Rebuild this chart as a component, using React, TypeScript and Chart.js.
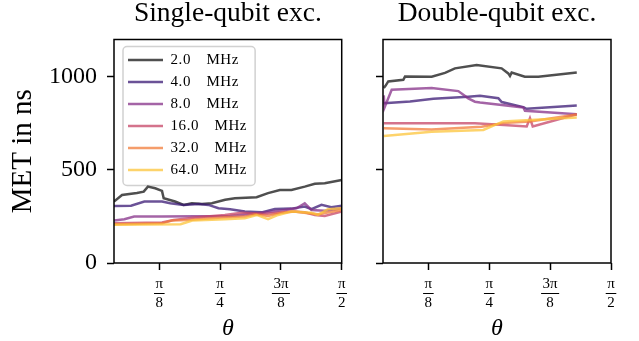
import React, { useEffect, useRef } from 'react';
import { Chart, registerables } from 'chart.js';

Chart.register(...registerables);

const PI = Math.PI;
const THETA_MIN = 0.1;
const THETA_MAX = PI / 2;
const X_TICK_VALUES = [PI / 8, PI / 4, (3 * PI) / 8, PI / 2];
const X_TICK_NUMERATORS = ['π', 'π', '3π', 'π'];
const X_TICK_DENOMINATORS = ['8', '4', '8', '2'];
const Y_TICK_VALUES = [0, 500, 1000];
const Y_MAX = 1200;

const PANEL_TITLES = ['Single-qubit exc.', 'Double-qubit exc.'];
const Y_TITLE = 'MET in ns';
const X_TITLE = 'θ';
const FREQUENCIES = ['2.0 MHz', '4.0 MHz', '8.0 MHz', '16.0 MHz', '32.0 MHz', '64.0 MHz'];
const COLORS = [
  'rgba(30,30,30,0.78)',
  'rgba(57,24,116,0.75)',
  'rgba(133,48,136,0.75)',
  'rgba(197,68,101,0.75)',
  'rgba(242,124,57,0.75)',
  'rgba(252,196,57,0.75)',
];

// [theta (rad), MET (ns)] — single-qubit excitation
const SINGLE_2MHZ = [[0.1, 330], [0.152, 365], [0.248, 376], [0.292, 383], [0.319, 410], [0.366, 401], [0.41, 387], [0.421, 348], [0.494, 330], [0.55, 312], [0.603, 321], [0.668, 317], [0.732, 321], [0.818, 340], [0.881, 348], [1.021, 353], [1.095, 375], [1.171, 392], [1.246, 392], [1.332, 410], [1.397, 425], [1.461, 428], [1.571, 446]];
const SINGLE_4MHZ = [[0.1, 306], [0.21, 308], [0.296, 330], [0.41, 330], [0.463, 321], [0.55, 312], [0.646, 317], [0.71, 312], [0.775, 294], [0.85, 289], [0.945, 276], [1.053, 272], [1.139, 290], [1.246, 292], [1.332, 303], [1.375, 289], [1.44, 312], [1.504, 299], [1.571, 308]];
const SINGLE_8MHZ = [[0.1, 228], [0.167, 235], [0.23, 249], [0.41, 249], [0.85, 253], [1.031, 267], [1.203, 285], [1.279, 294], [1.332, 321], [1.375, 285], [1.461, 281], [1.571, 294]];
const SINGLE_16MHZ = [[0.1, 213], [0.41, 217], [0.485, 231], [0.624, 244], [0.816, 258], [0.924, 270], [1.074, 263], [1.246, 276], [1.332, 272], [1.397, 258], [1.461, 253], [1.571, 276]];
const SINGLE_32MHZ = [[0.1, 208], [0.41, 213], [0.474, 228], [0.582, 231], [0.816, 246], [0.945, 249], [1.01, 262], [1.095, 253], [1.182, 270], [1.268, 276], [1.353, 267], [1.418, 262], [1.571, 285]];
const SINGLE_64MHZ = [[0.1, 206], [0.53, 208], [0.606, 228], [0.816, 235], [0.945, 240], [1.021, 258], [1.095, 235], [1.16, 258], [1.246, 276], [1.375, 270], [1.418, 258], [1.482, 289], [1.571, 294]];

// [theta (rad), MET (ns)] — double-qubit excitation
const DOUBLE_2MHZ = [[0.105, 940], [0.115, 950], [0.134, 975], [0.231, 984], [0.242, 1001], [0.414, 1000], [0.5, 1021], [0.564, 1045], [0.704, 1063], [0.865, 1045], [0.908, 1018], [0.919, 1004], [0.93, 1023], [1.015, 1000], [1.102, 1000], [1.35, 1023]];
const DOUBLE_4MHZ = [[0.105, 858], [0.274, 867], [0.425, 882], [0.65, 893], [0.726, 898], [0.844, 885], [0.866, 864], [1.005, 837], [1.027, 828], [1.35, 846]];
const DOUBLE_8MHZ = [[0.105, 900], [0.11, 835], [0.156, 930], [0.414, 940], [0.586, 923], [0.65, 884], [0.693, 866], [0.726, 862], [1.005, 835], [1.016, 817], [1.35, 799]];
const DOUBLE_16MHZ = [[0.105, 750], [0.693, 750], [0.855, 742], [1.027, 733], [1.048, 778], [1.066, 733], [1.35, 799]];
const DOUBLE_32MHZ = [[0.105, 723], [0.414, 717], [0.736, 732], [0.876, 751], [1.048, 760], [1.35, 797]];
const DOUBLE_64MHZ = [[0.105, 682], [0.414, 705], [0.747, 714], [0.876, 760], [1.35, 781]];

const SINGLE_SERIES = [SINGLE_2MHZ, SINGLE_4MHZ, SINGLE_8MHZ, SINGLE_16MHZ, SINGLE_32MHZ, SINGLE_64MHZ];
const DOUBLE_SERIES = [DOUBLE_2MHZ, DOUBLE_4MHZ, DOUBLE_8MHZ, DOUBLE_16MHZ, DOUBLE_32MHZ, DOUBLE_64MHZ];

const FAMILY = "'Liberation Serif', 'DejaVu Serif', serif";
const TICK_LEN = 7;
const XT_PAD = 4.5;
const XT_LINE = 19;
const LEGEND_WORD_SPACING = '11px';
const LEGEND_LETTER_SPACING = '0.6px';

const framePlugin = {
  id: 'panelFrame',
  beforeInit(chart: any) {
    const lg = chart.legend;
    if (!lg || !chart.options.plugins.legend.display) return;
    const origFit = lg.fit.bind(lg);
    lg.fit = function () {
      const ctx: any = chart.ctx;
      ctx.save();
      ctx.wordSpacing = LEGEND_WORD_SPACING;
      ctx.letterSpacing = LEGEND_LETTER_SPACING;
      origFit();
      ctx.restore();
    };
    const origDraw = lg.draw.bind(lg);
    lg.draw = function () {
      const ctx: any = chart.ctx;
      const ca = chart.chartArea;
      const itemX = ca.left + 14;
      const itemY = ca.top + 13;
      const colW = lg.columnSizes && lg.columnSizes[0] ? lg.columnSizes[0].width : 110;
      const fx = ca.left + 9;
      const fy = ca.top + 7;
      const fw = itemX - fx + colW + 8;
      const fh = 139;
      ctx.save();
      ctx.beginPath();
      if (ctx.roundRect) ctx.roundRect(fx, fy, fw, fh, 4);
      else ctx.rect(fx, fy, fw, fh);
      ctx.fillStyle = 'rgba(255,255,255,0.8)';
      ctx.fill();
      ctx.strokeStyle = 'rgba(204,204,204,0.9)';
      ctx.lineWidth = 1.5;
      ctx.stroke();
      ctx.restore();
      ctx.save();
      ctx.wordSpacing = LEGEND_WORD_SPACING;
      ctx.letterSpacing = LEGEND_LETTER_SPACING;
      ctx.translate(itemX - (lg.left + 7), itemY - (lg.top + 7));
      origDraw();
      ctx.restore();
    };
  },
  afterDraw(chart: any) {
    const { ctx, chartArea: ca } = chart;
    ctx.save();
    ctx.strokeStyle = '#000';
    ctx.lineWidth = 1.5;
    ctx.strokeRect(ca.left, ca.top, ca.right - ca.left, ca.bottom - ca.top);
    const xs = chart.scales.x;
    ctx.font = `15px ${FAMILY}`;
    ctx.fillStyle = '#000';
    const barY = xs.top + TICK_LEN + XT_PAD + XT_LINE - 0.5;
    X_TICK_VALUES.forEach((v, i) => {
      const px = xs.getPixelForValue(v);
      const w = Math.max(ctx.measureText(X_TICK_NUMERATORS[i]).width, ctx.measureText(X_TICK_DENOMINATORS[i]).width) + 3;
      ctx.fillRect(px - w / 2, barY, w, 1);
    });
    ctx.restore();
  },
};

function buildConfig(panel: number): any {
  const series = panel === 0 ? SINGLE_SERIES : DOUBLE_SERIES;
  const isLeft = panel === 0;
  return {
    type: 'line',
    data: {
      datasets: series.map((pts, i) => ({
        label: FREQUENCIES[i],
        data: pts.map(([x, y]) => ({ x, y })),
        borderColor: COLORS[i],
        backgroundColor: COLORS[i],
        borderWidth: 2.5,
        pointRadius: 0,
        tension: 0,
        fill: false,
        order: series.length - i,
      })),
    },
    options: {
      animation: false,
      responsive: false,
      events: [],
      layout: { padding: { left: 0, right: isLeft ? 8 : 28, top: 0, bottom: 0 } },
      plugins: {
        tooltip: { enabled: false },
        title: {
          display: true,
          text: PANEL_TITLES[panel],
          fullSize: false,
          color: '#000',
          font: { family: FAMILY, size: 27.5, weight: 'normal', lineHeight: 1 },
          padding: { top: 0, bottom: 12 },
        },
        legend: {
          display: isLeft,
          position: 'chartArea',
          align: 'start',
          labels: {
            usePointStyle: true,
            pointStyle: 'line',
            pointStyleWidth: 35,
            padding: 7,
            color: '#000',
            font: { family: FAMILY, size: 15 },
            sort: (a: any, b: any) => a.datasetIndex - b.datasetIndex,
          },
        },
      },
      scales: {
        x: {
          type: 'linear',
          min: THETA_MIN,
          max: THETA_MAX,
          afterBuildTicks: (scale: any) => {
            scale.ticks = X_TICK_VALUES.map((v) => ({ value: v }));
          },
          afterFit: (scale: any) => {
            scale.height = 78;
          },
          border: { display: false },
          grid: {
            display: true,
            drawOnChartArea: false,
            drawTicks: true,
            tickLength: TICK_LEN,
            tickColor: '#000',
            tickWidth: 1.5,
          },
          ticks: {
            autoSkip: false,
            maxRotation: 0,
            minRotation: 0,
            padding: XT_PAD,
            color: '#000',
            font: { family: FAMILY, size: 15, lineHeight: XT_LINE / 15 },
            callback: (_v: any, i: number) => [X_TICK_NUMERATORS[i], X_TICK_DENOMINATORS[i]],
          },
          title: {
            display: true,
            text: X_TITLE,
            color: '#000',
            font: { family: FAMILY, size: 24, style: 'italic', lineHeight: 1 },
            padding: { top: 0, bottom: 0 },
          },
        },
        y: {
          type: 'linear',
          min: 0,
          max: Y_MAX,
          afterBuildTicks: (scale: any) => {
            scale.ticks = Y_TICK_VALUES.map((v) => ({ value: v }));
          },
          afterFit: (scale: any) => {
            scale.width = isLeft ? 114 : 33;
          },
          border: { display: false },
          grid: {
            display: true,
            drawOnChartArea: false,
            drawTicks: true,
            tickLength: TICK_LEN,
            tickColor: '#000',
            tickWidth: 1.5,
          },
          ticks: {
            display: isLeft,
            padding: 10,
            color: '#000',
            font: { family: FAMILY, size: 24 },
            callback: (v: any) => String(v),
          },
          title: {
            display: isLeft,
            text: Y_TITLE,
            color: '#000',
            font: { family: FAMILY, size: 29, lineHeight: 1 },
            padding: { top: 9, bottom: 0 },
          },
        },
      },
    },
    plugins: [framePlugin],
  };
}

function Panel({ panel, left, width }: { panel: number; left: number; width: number }) {
  const ref = useRef<HTMLCanvasElement>(null);
  useEffect(() => {
    if (!ref.current) return;
    const chart = new Chart(ref.current, buildConfig(panel));
    return () => chart.destroy();
  }, [panel]);
  return (
    <canvas
      ref={ref}
      width={width}
      height={341}
      style={{ position: 'absolute', left, top: 0, width, height: 341, display: 'block' }}
    />
  );
}

export default function App() {
  return (
    <div style={{ position: 'absolute', left: 0, top: 0, width: 639, height: 341, background: '#fff' }}>
      <Panel panel={0} left={0} width={350} />
      <Panel panel={1} left={350} width={289} />
    </div>
  );
}
